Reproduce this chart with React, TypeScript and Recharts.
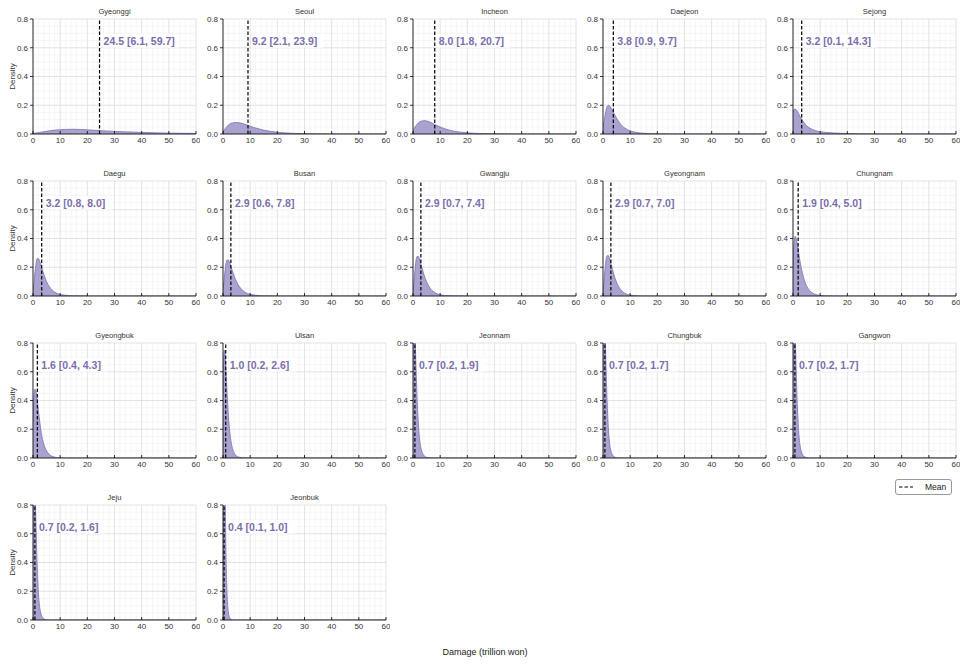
import React from 'react';
import { ComposedChart, Area, XAxis, YAxis, CartesianGrid, ReferenceLine } from 'recharts';

const FONT = '"Liberation Sans", Arial, Helvetica, sans-serif';

const xs = [0, 0.1, 0.2, 0.3, 0.5, 0.75, 1, 1.5, 2, 2.5, 3, 4, 5, 6, 8, 10, 12, 15, 20, 25, 30, 40, 50, 60];

const gyeonggi = [0.004, 0.004, 0.004, 0.005, 0.005, 0.006, 0.007, 0.008, 0.010, 0.011, 0.013, 0.016, 0.019, 0.022, 0.027, 0.030, 0.032, 0.033, 0.029, 0.023, 0.018, 0.011, 0.006, 0.004];
const seoul = [0.020, 0.022, 0.024, 0.026, 0.030, 0.036, 0.042, 0.053, 0.062, 0.069, 0.074, 0.079, 0.080, 0.078, 0.068, 0.054, 0.042, 0.027, 0.012, 0.005, 0.002, 0.0003, 0, 0];
const incheon = [0.025, 0.028, 0.031, 0.034, 0.040, 0.048, 0.055, 0.068, 0.078, 0.085, 0.089, 0.093, 0.091, 0.085, 0.066, 0.048, 0.035, 0.020, 0.008, 0.003, 0.001, 0, 0, 0];
const daejeon = [0.050, 0.060, 0.070, 0.080, 0.100, 0.130, 0.155, 0.190, 0.200, 0.195, 0.180, 0.145, 0.110, 0.080, 0.042, 0.022, 0.012, 0.005, 0.001, 0, 0, 0, 0, 0];
const sejong = [0.155, 0.160, 0.165, 0.168, 0.172, 0.174, 0.172, 0.160, 0.145, 0.125, 0.108, 0.080, 0.058, 0.043, 0.025, 0.016, 0.011, 0.007, 0.003, 0.001, 0, 0, 0, 0];
const daegu = [0.040, 0.050, 0.065, 0.080, 0.120, 0.170, 0.210, 0.260, 0.260, 0.240, 0.210, 0.150, 0.100, 0.065, 0.027, 0.011, 0.005, 0.001, 0, 0, 0, 0, 0, 0];
const busan = [0.050, 0.060, 0.075, 0.090, 0.130, 0.175, 0.215, 0.250, 0.250, 0.230, 0.200, 0.145, 0.100, 0.066, 0.028, 0.012, 0.005, 0.001, 0, 0, 0, 0, 0, 0];
const gwangju = [0.040, 0.050, 0.065, 0.085, 0.130, 0.185, 0.230, 0.275, 0.275, 0.250, 0.215, 0.150, 0.100, 0.062, 0.024, 0.009, 0.003, 0.001, 0, 0, 0, 0, 0, 0];
const gyeongnam = [0.040, 0.050, 0.066, 0.086, 0.130, 0.190, 0.235, 0.280, 0.280, 0.255, 0.220, 0.150, 0.095, 0.058, 0.020, 0.007, 0.002, 0, 0, 0, 0, 0, 0, 0];
const chungnam = [0.200, 0.250, 0.300, 0.340, 0.390, 0.415, 0.410, 0.370, 0.310, 0.250, 0.200, 0.120, 0.070, 0.040, 0.013, 0.004, 0.001, 0, 0, 0, 0, 0, 0, 0];
const gyeongbuk = [0.250, 0.300, 0.360, 0.410, 0.460, 0.480, 0.470, 0.410, 0.330, 0.250, 0.180, 0.095, 0.050, 0.025, 0.006, 0.001, 0, 0, 0, 0, 0, 0, 0, 0];
const ulsan = [0.450, 0.550, 0.640, 0.710, 0.750, 0.720, 0.640, 0.450, 0.290, 0.180, 0.110, 0.040, 0.014, 0.005, 0.001, 0, 0, 0, 0, 0, 0, 0, 0, 0];
const jeonnam = [0.600, 0.800, 0.950, 1.020, 1.000, 0.880, 0.700, 0.420, 0.230, 0.120, 0.065, 0.018, 0.005, 0.001, 0, 0, 0, 0, 0, 0, 0, 0, 0, 0];
const chungbuk = [0.600, 0.820, 1.000, 1.080, 1.060, 0.920, 0.720, 0.400, 0.200, 0.090, 0.045, 0.010, 0.002, 0, 0, 0, 0, 0, 0, 0, 0, 0, 0, 0];
const gangwon = [0.580, 0.800, 0.980, 1.060, 1.050, 0.920, 0.730, 0.410, 0.210, 0.100, 0.050, 0.012, 0.003, 0, 0, 0, 0, 0, 0, 0, 0, 0, 0, 0];
const jeju = [0.600, 0.830, 1.020, 1.100, 1.080, 0.940, 0.740, 0.400, 0.190, 0.085, 0.040, 0.008, 0.001, 0, 0, 0, 0, 0, 0, 0, 0, 0, 0, 0];
const jeonbuk = [1.200, 1.600, 1.850, 1.850, 1.550, 1.000, 0.580, 0.180, 0.050, 0.015, 0.004, 0, 0, 0, 0, 0, 0, 0, 0, 0, 0, 0, 0, 0];

const regionNames = ['Gyeonggi', 'Seoul', 'Incheon', 'Daejeon', 'Sejong', 'Daegu', 'Busan', 'Gwangju', 'Gyeongnam', 'Chungnam', 'Gyeongbuk', 'Ulsan', 'Jeonnam', 'Chungbuk', 'Gangwon', 'Jeju', 'Jeonbuk'];
const densities = [gyeonggi, seoul, incheon, daejeon, sejong, daegu, busan, gwangju, gyeongnam, chungnam, gyeongbuk, ulsan, jeonnam, chungbuk, gangwon, jeju, jeonbuk];
const means = [24.5, 9.2, 8.0, 3.8, 3.2, 3.2, 2.9, 2.9, 2.9, 1.9, 1.6, 1.0, 0.7, 0.7, 0.7, 0.7, 0.4];
const ciLow = [6.1, 2.1, 1.8, 0.9, 0.1, 0.8, 0.6, 0.7, 0.7, 0.4, 0.4, 0.2, 0.2, 0.2, 0.2, 0.2, 0.1];
const ciHigh = [59.7, 23.9, 20.7, 9.7, 14.3, 8.0, 7.8, 7.4, 7.0, 5.0, 4.3, 2.6, 1.9, 1.7, 1.7, 1.6, 1.0];

const xTicks = [0, 10, 20, 30, 40, 50, 60];
const yTicks = [0, 0.2, 0.4, 0.6, 0.8];
const minorX = [2, 4, 6, 8, 12, 14, 16, 18, 22, 24, 26, 28, 32, 34, 36, 38, 42, 44, 46, 48, 52, 54, 56, 58];
const minorY = [0.05, 0.1, 0.15, 0.25, 0.3, 0.35, 0.45, 0.5, 0.55, 0.65, 0.7, 0.75];

const PURPLE = '#7a6eac';

const XTick = (props: any) => {
  const { x, y, payload } = props;
  return (
    <g>
      <line x1={x} x2={x} y1={y} y2={y - 3} stroke="#000" strokeWidth={0.8} />
      <text x={x} y={y + 9} textAnchor="middle" fontSize={8} fill="#333" fontFamily={FONT}>
        {payload.value}
      </text>
    </g>
  );
};

const makeLabel = (text: string) => (props: any) => {
  const vb = props.viewBox || {};
  const x = (vb.x ?? 0) + 3;
  const y = (vb.y ?? 0) + (vb.height ?? 0) * 0.19;
  const w = text.length * 4.6 + 3;
  return (
    <g>
      <rect x={x} y={y - 7} width={w} height={14} fill="#fff" fillOpacity={0.8} />
      <text x={x + 1} y={y} dominantBaseline="central" fontSize={10.5} fontWeight="bold" fill={PURPLE} fontFamily={FONT}>
        {text}
      </text>
    </g>
  );
};

const Panel = ({ idx }: { idx: number }) => {
  const col = idx % 5;
  const row = Math.floor(idx / 5);
  const dens = densities[idx];
  const data = xs.map((x, i) => ({ x, d: dens[i] }));
  const text = `${means[idx].toFixed(1)} [${ciLow[idx].toFixed(1)}, ${ciHigh[idx].toFixed(1)}]`;
  return (
    <div style={{ position: 'absolute', left: 190 * col, top: 162 * row, width: 200, height: 149 }}>
      <div
        style={{
          position: 'absolute', left: 33, top: 8, width: 163, textAlign: 'center',
          fontSize: 7.5, lineHeight: '8px', color: '#333', fontFamily: FONT,
        }}
      >
        {regionNames[idx]}
      </div>
      <ComposedChart width={200} height={149} data={data} margin={{ top: 19, right: 4, bottom: 0, left: 0 }}>
        <CartesianGrid stroke="#f0f0f0" strokeWidth={0.6} verticalValues={minorX} horizontalValues={minorY} />
        <CartesianGrid stroke="#dcdcdc" strokeWidth={0.8} verticalValues={xTicks} horizontalValues={yTicks} />
        <XAxis
          type="number" dataKey="x" domain={[0, 60]} ticks={xTicks} interval={0} allowDataOverflow
          height={15} tickSize={0} tickMargin={0} tickLine={false} tick={<XTick />}
          axisLine={{ stroke: '#000', strokeWidth: 0.8 }}
        />
        <YAxis
          type="number" domain={[0, 0.8]} ticks={yTicks} interval={0} allowDataOverflow width={33}
          tickSize={3} tickMargin={2} tickFormatter={(v: number) => v.toFixed(1)}
          tick={{ fontSize: 8, fill: '#333', fontFamily: FONT }}
          tickLine={{ stroke: '#000', strokeWidth: 0.8 }}
          axisLine={{ stroke: '#000', strokeWidth: 0.8 }}
          label={col === 0 ? {
            value: 'Density', angle: -90, position: 'insideLeft', offset: 12,
            fontSize: 8, fill: '#333', style: { textAnchor: 'middle', fontFamily: FONT },
          } : undefined}
        />
        <Area
          type="monotone" dataKey="d" stroke="#7b6fae" strokeWidth={0.8} fill="#8d84c0" fillOpacity={0.75}
          isAnimationActive={false} dot={false} activeDot={false} baseValue={0}
        />
        <ReferenceLine x={means[idx]} stroke="#000" strokeWidth={1.2} strokeDasharray="3.5 2" label={makeLabel(text)} />
      </ComposedChart>
    </div>
  );
};

export default function App() {
  return (
    <div style={{ position: 'absolute', left: 0, top: 0, width: 969, height: 664, background: '#fff', fontFamily: FONT }}>
      {regionNames.map((_, i) => (
        <Panel key={i} idx={i} />
      ))}
      <div
        style={{
          position: 'absolute', left: 895, top: 479, width: 57, height: 16, boxSizing: 'border-box',
          border: '1px solid #999', borderRadius: 3, display: 'flex', alignItems: 'center', background: '#fff',
        }}
      >
        <svg width={20} height={10} style={{ display: 'block' }}>
          <line x1={3} x2={17} y1={5} y2={5} stroke="#000" strokeWidth={1.2} strokeDasharray="3.5 2" />
        </svg>
        <span style={{ marginLeft: 9, fontSize: 8.5, color: '#222', fontFamily: FONT }}>Mean</span>
      </div>
      <div
        style={{
          position: 'absolute', left: 385, top: 647, width: 200, textAlign: 'center',
          fontSize: 9, lineHeight: '11px', color: '#222', fontFamily: FONT,
        }}
      >
        Damage (trillion won)
      </div>
    </div>
  );
}
